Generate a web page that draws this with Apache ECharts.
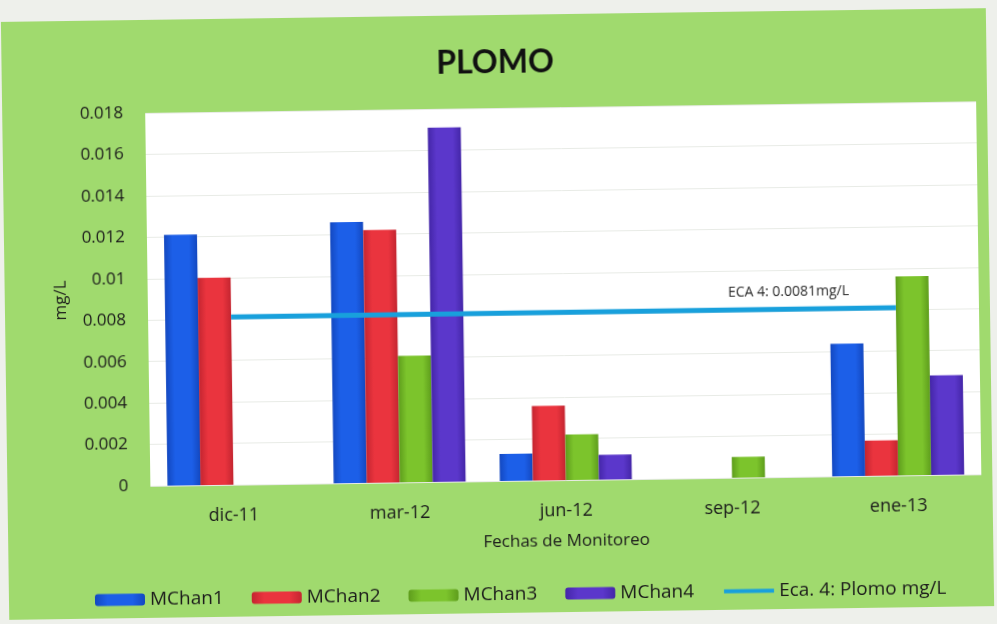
<!DOCTYPE html>
<html>
<head>
<meta charset="utf-8">
<title>PLOMO</title>
<script src="https://cdn.jsdelivr.net/npm/echarts@6/dist/echarts.min.js"></script>
<style>
  html, body { margin: 0; padding: 0; background: #eef0eb; overflow: hidden; }
  #chart { width: 997px; height: 624px; transform: rotate(-0.8deg); transform-origin: 50% 50%; }
</style>
</head>
<body>
<div id="chart"></div>
<script>
// Monitoring dates (category axis)
const fechas = ['dic-11', 'mar-12', 'jun-12', 'sep-12', 'ene-13'];

// Lead concentration per monitoring station, mg/L (null = no value)
const mchan1 = [0.0121, 0.0126, 0.0013, null, 0.0064];
const mchan2 = [0.0100, 0.0122, 0.0036, null, 0.0017];
const mchan3 = [null, 0.0061, 0.0022, 0.0010, 0.0096];
const mchan4 = [null, 0.0171, 0.0012, null, 0.0048];

// Water quality standard (ECA category 4) for lead, mg/L
const ecaPlomo = [0.0081, 0.0081, 0.0081, 0.0081, 0.0081];

// Y axis ticks
const yTicks = { min: 0, max: 0.018, interval: 0.002 };

const FONT = '"Open Sans", "DejaVu Sans", sans-serif';
const ECA_NAME = 'Eca. 4: Plomo mg/L';

function barFill(c0, c1) {
  return new echarts.graphic.LinearGradient(0, 0, 1, 0, [
    { offset: 0, color: c1 },
    { offset: 0.25, color: c0 },
    { offset: 0.75, color: c0 },
    { offset: 1, color: c1 }
  ]);
}

function barSeries(name, data, c0, c1) {
  return {
    name: name,
    type: 'bar',
    data: data,
    barWidth: 33,
    barGap: '0%',
    itemStyle: { color: barFill(c0, c1) },
    z: 2
  };
}

// The standard's label sits above the line near the sep-12 point
const ecaLabelIndex = 3;

const chart = echarts.init(document.getElementById('chart'), null, { renderer: 'canvas' });

chart.setOption({
  backgroundColor: 'transparent',
  animation: false,
  textStyle: { fontFamily: FONT },
  graphic: [{
    type: 'rect',
    z: -10,
    shape: { x: 5, y: 15, width: 985, height: 598 },
    style: { fill: '#a0da6e' }
  }],
  title: {
    text: 'PLOMO',
    left: 'center',
    top: 42,
    textStyle: { fontFamily: 'Lato, ' + FONT, fontSize: 32, fontWeight: 'bold', color: '#111' }
  },
  legend: {
    bottom: 15,
    left: 86,
    itemWidth: 50,
    itemHeight: 12,
    itemGap: 28,
    textStyle: { fontSize: 19, color: '#1b1b1b', fontFamily: FONT },
    data: [
      'MChan1', 'MChan2', 'MChan3', 'MChan4',
      // plain line swatch, no marker dot
      { name: ECA_NAME, itemStyle: { opacity: 0 }, lineStyle: { width: 4 } }
    ]
  },
  grid: {
    left: 148,
    right: 18,
    top: 108,
    bottom: 143,
    show: true,
    backgroundColor: '#ffffff',
    borderWidth: 0
  },
  xAxis: {
    type: 'category',
    data: fechas,
    name: 'Fechas de Monitoreo',
    nameLocation: 'middle',
    nameGap: 53,
    nameTextStyle: { fontSize: 17, color: '#1b1b1b' },
    axisLine: { show: false },
    axisTick: { show: false },
    axisLabel: { fontSize: 18, color: '#1b1b1b', margin: 22 }
  },
  yAxis: {
    type: 'value',
    min: yTicks.min,
    max: yTicks.max,
    interval: yTicks.interval,
    name: 'mg/L',
    nameLocation: 'middle',
    nameGap: 78,
    nameRotate: 90,
    nameTextStyle: { fontSize: 17, color: '#1b1b1b' },
    axisLine: { show: false },
    axisTick: { show: false },
    axisLabel: { fontSize: 17, color: '#1b1b1b', margin: 22 },
    splitLine: { lineStyle: { color: '#e8ebe6', width: 1 } }
  },
  series: [
    barSeries('MChan1', mchan1, '#1c5fe8', '#1348c0'),
    barSeries('MChan2', mchan2, '#ea343e', '#c42530'),
    barSeries('MChan3', mchan3, '#7cc42c', '#5e9d1c'),
    barSeries('MChan4', mchan4, '#5b37cb', '#4426a8'),
    {
      name: ECA_NAME,
      type: 'line',
      data: ecaPlomo,
      symbol: 'none',
      lineStyle: { color: '#18a0dc', width: 5 },
      itemStyle: { color: '#18a0dc' },
      z: 5,
      markPoint: {
        symbol: 'rect',
        symbolSize: 1,
        itemStyle: { color: 'rgba(0,0,0,0)' },
        label: {
          show: true,
          position: 'top',
          distance: 10,
          offset: [59, 0],
          fontSize: 14,
          color: '#2a2a2a',
          formatter: function (p) { return 'ECA 4: ' + p.value + 'mg/L'; }
        },
        data: [{
          coord: [fechas[ecaLabelIndex], ecaPlomo[ecaLabelIndex]],
          value: ecaPlomo[ecaLabelIndex]
        }]
      }
    }
  ]
});
</script>
</body>
</html>
